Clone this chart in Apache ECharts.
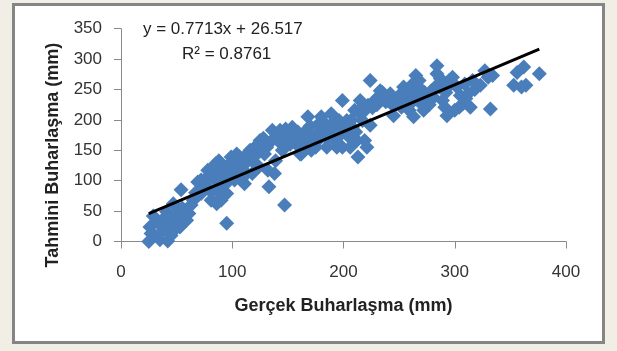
<!DOCTYPE html>
<html>
<head>
<meta charset="utf-8">
<script src="https://cdn.jsdelivr.net/npm/echarts@6/dist/echarts.min.js"></script>
<style>
  html, body { margin: 0; padding: 0; background: #f1eee6; }
  #chart { width: 617px; height: 351px; }
</style>
</head>
<body>
<div id="chart"></div>
<script>
const gercek = [
  25, 27, 26, 29, 33, 35, 38, 42, 45, 43, 48, 49, 47, 41, 54, 58, 61, 59, 53, 37,
  65, 69, 72, 76, 78, 81, 83, 85, 88, 86, 90, 90, 92, 95, 93, 97, 99, 100, 72, 79, 85, 95, 90, 81,
  104, 106, 108, 111, 113, 115, 118, 122, 124, 125, 127, 129, 132, 133, 136, 139, 138, 141, 145, 147, 143, 148, 102, 109, 118, 108, 116,
  154, 155, 157, 159, 161, 162, 166, 168, 169, 171, 175, 176, 178, 180, 182, 184, 185, 189, 191, 192, 194, 196, 198, 199, 199, 162,
  203, 205, 206, 208, 210, 212, 213, 215, 217, 219, 221, 222, 224, 224, 228, 231, 233, 236, 240, 242, 245, 247, 217,
  252, 254, 256, 259, 261, 263, 265, 266, 268, 270, 272, 275, 279, 281, 284, 284, 286, 288, 289, 291, 293, 295, 298, 300, 302,
  304, 307, 309, 312, 314, 316, 323, 327, 330, 332, 334, 353, 356, 360, 362, 364, 376,
  30, 35, 40, 44, 50, 55, 63, 67, 74, 80, 84, 88, 92, 96, 100, 103, 106, 110, 114, 120,
  123, 128, 131, 135, 140, 146, 150, 152, 158, 165, 170, 174, 179, 183, 187, 193, 197, 202, 207, 211,
  215, 219, 226, 230, 235, 238, 244, 250, 258, 262, 267, 273, 277, 283, 287, 292, 297, 305, 310, 318
];
const tahmini = [
  0, 13, 24, 42, 32, 3, 19, 1, 10, 27, 19, 35, 62, 49, 85, 42, 46, 35, 24, 35,
  68, 98, 79, 90, 117, 68, 106, 128, 133, 62, 73, 112, 92, 30, 122, 100, 139, 114, 101, 101, 87, 79, 68, 82,
  144, 123, 101, 95, 112, 139, 133, 150, 123, 166, 155, 144, 117, 90, 183, 133, 112, 166, 150, 60, 183, 185, 101, 117, 112, 133, 150,
  188, 166, 161, 180, 144, 155, 166, 205, 177, 150, 155, 177, 194, 205, 185, 172, 155, 210, 188, 166, 155, 199, 177, 232, 155, 144,
  199, 172, 155, 188, 216, 166, 139, 232, 199, 166, 155, 224, 265, 191, 232, 237, 248, 237, 232, 243, 207, 232, 221,
  221, 254, 237, 216, 257, 205, 273, 243, 265, 226, 216, 232, 248, 237, 289, 276, 254, 259, 232, 221, 207, 265, 270, 216, 254,
  221, 226, 259, 243, 221, 265, 257, 281, 270, 218, 273, 257, 278, 254, 287, 257, 276,
  10, 28, 40, 15, 45, 55, 60, 80, 95, 110, 120, 100, 108, 125, 130, 110, 140, 125, 145, 140,
  160, 170, 155, 165, 175, 170, 180, 160, 170, 180, 190, 165, 170, 195, 175, 200, 190, 185, 200, 180,
  210, 215, 220, 225, 245, 230, 225, 240, 245, 230, 255, 245, 225, 255, 268, 245, 260, 240, 235, 250
];
// trend line shown on the chart: y = 0.7713x + 26.517
const trendX = [25, 376];
const trendY = [45.8, 316.5];
const xTicks = [0, 100, 200, 300, 400];
const yTicks = [0, 50, 100, 150, 200, 250, 300, 350];

const points = gercek.map((x, i) => [x, tahmini[i]]);
const trend = trendX.map((x, i) => [x, trendY[i]]);

const chart = echarts.init(document.getElementById("chart"), null, { renderer: "canvas" });
const font = "'Liberation Sans', Arial, sans-serif";

chart.setOption({
  backgroundColor: "#f1eee6",
  animation: false,
  graphic: [
    {
      type: "rect",
      z: -10,
      shape: { x: 13.5, y: 4.5, width: 590, height: 338 },
      style: { fill: "#ffffff", stroke: "#858585", lineWidth: 3 },
    },
    {
      type: "text",
      left: 143,
      top: 21,
      style: { text: "y = 0.7713x + 26.517", font: "17px " + font, fill: "#222" },
    },
    {
      type: "text",
      left: 182,
      top: 46,
      style: { text: "R² = 0.8761", font: "17px " + font, fill: "#222" },
    },
  ],
  grid: { left: 121, right: 51, top: 28.7, bottom: 109.5 },
  xAxis: {
    type: "value",
    min: xTicks[0],
    max: xTicks[xTicks.length - 1],
    interval: 100,
    name: "Gerçek Buharlaşma (mm)",
    nameLocation: "middle",
    nameGap: 56,
    nameTextStyle: { fontFamily: font, fontSize: 18, fontWeight: "bold", color: "#222" },
    splitLine: { show: false },
    axisLine: { lineStyle: { color: "#8a8a8a", width: 1 } },
    axisTick: { show: true, length: 7, lineStyle: { color: "#8a8a8a" } },
    axisLabel: { margin: 22, fontFamily: font, fontSize: 17, color: "#333" },
  },
  yAxis: {
    type: "value",
    min: yTicks[0],
    max: yTicks[yTicks.length - 1],
    interval: 50,
    name: "Tahmini Buharlaşma (mm)",
    nameLocation: "middle",
    nameGap: 59,
    nameTextStyle: {
      fontFamily: font, fontSize: 18, fontWeight: "bold", color: "#222",
      padding: [0, 40, 0, 0],
    },
    splitLine: { show: false },
    axisLine: { show: true, lineStyle: { color: "#8a8a8a", width: 1 } },
    axisTick: { show: true, length: 7, lineStyle: { color: "#8a8a8a" } },
    axisLabel: { margin: 19, fontFamily: font, fontSize: 17, color: "#333" },
  },
  series: [
    {
      type: "scatter",
      data: points,
      symbol: "diamond",
      symbolSize: 15,
      itemStyle: { color: "#4a7ebb", opacity: 1 },
    },
    {
      type: "line",
      data: trend,
      symbol: "none",
      lineStyle: { color: "#000", width: 3 },
      z: 5,
    },
  ],
});
</script>
</body>
</html>
